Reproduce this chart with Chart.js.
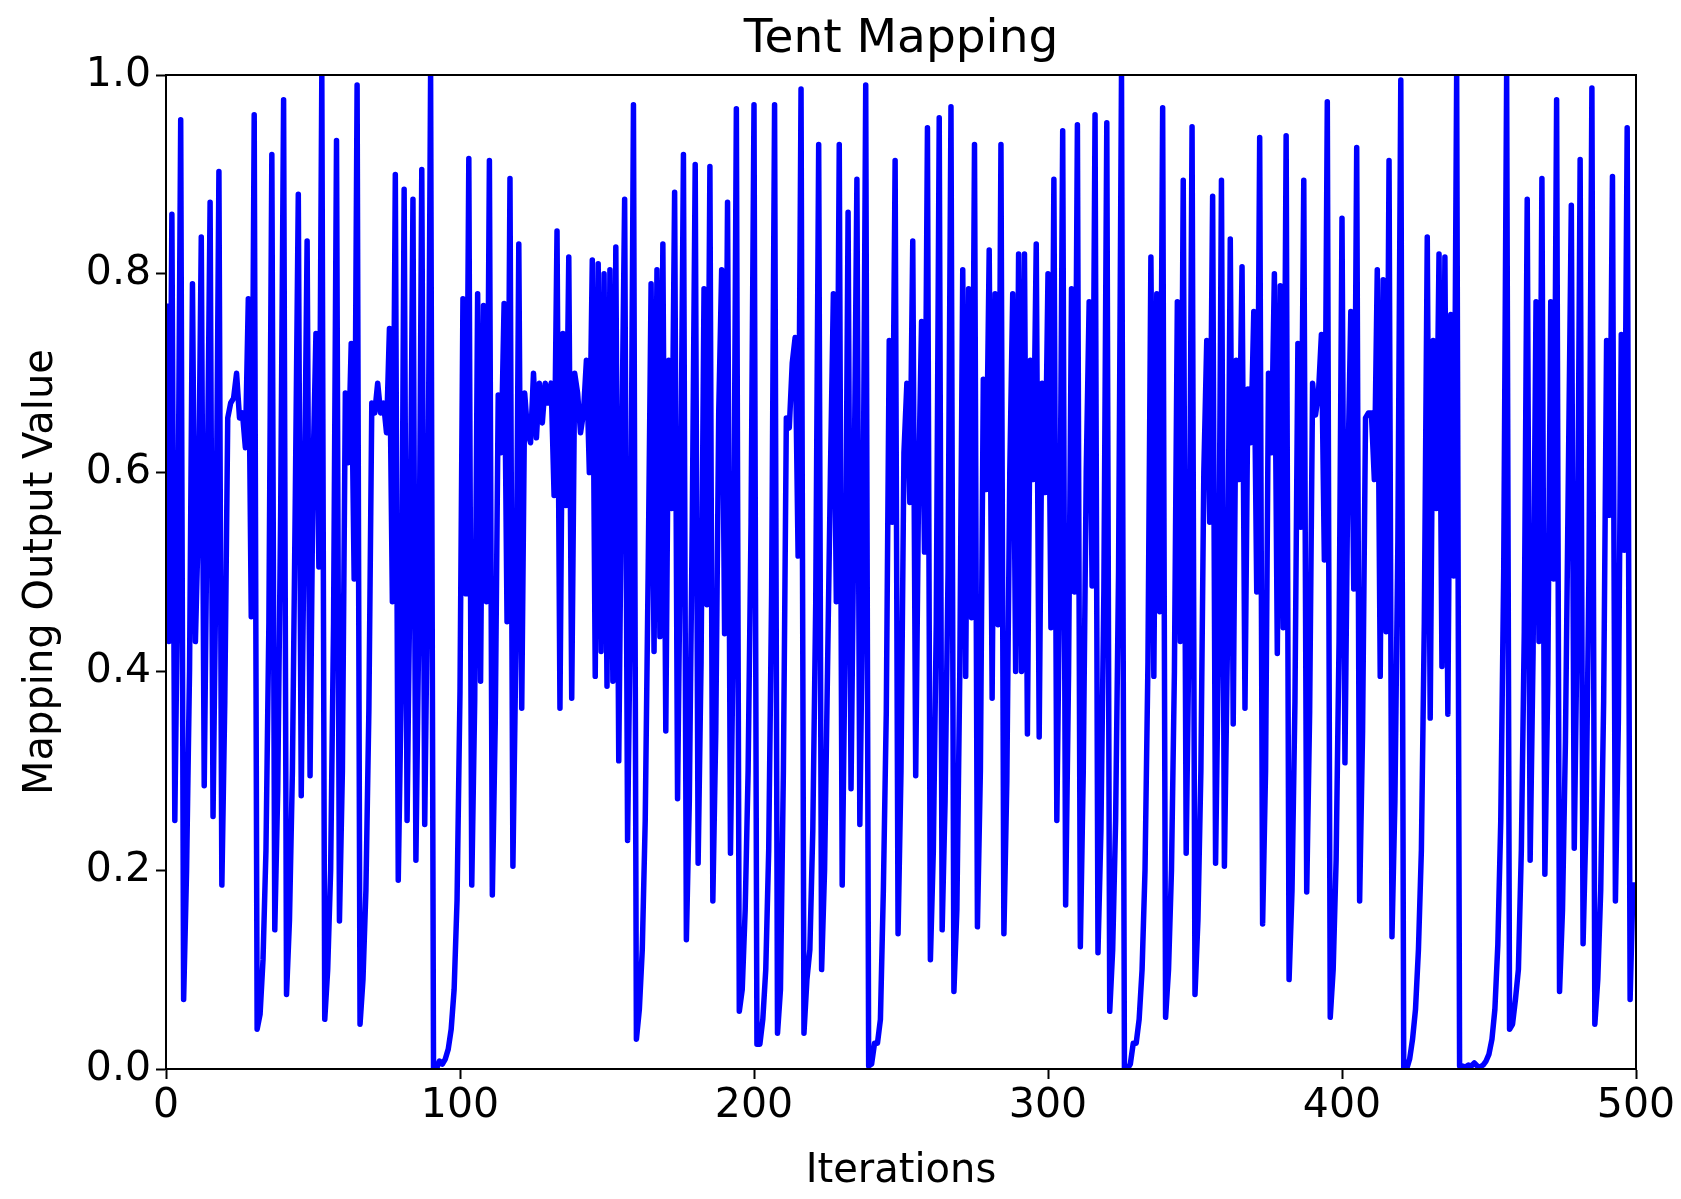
<!DOCTYPE html>
<html>
<head>
<meta charset="utf-8">
<script src="https://cdn.jsdelivr.net/npm/chart.js@4/dist/chart.umd.min.js"></script>
<style>
html,body{margin:0;padding:0;background:#ffffff;overflow:hidden;}
canvas{display:block;}
</style>
</head>
<body>
<canvas id="c" width="1681" height="1199" style="width:1681px;height:1199px;"></canvas>
<script>
// ---- data ----
const titleText = 'Tent Mapping';
const xAxisLabel = 'Iterations';
const yAxisLabel = 'Mapping Output Value';
const xTickValues = [0, 100, 200, 300, 400, 500];
const yTickValues = [0.0, 0.2, 0.4, 0.6, 0.8, 1.0];
const yTickLabels = ['0.0', '0.2', '0.4', '0.6', '0.8', '1.0'];

// mapping output value at each iteration (0..499)
const outputValues = [
  0.77,0.43,0.86,0.25,0.50,0.955,0.07,0.2,0.4,0.79,
  0.43,0.55,0.837,0.285,0.57,0.872,0.254,0.51,0.903,0.185,
  0.37,0.655,0.67,0.675,0.70,0.655,0.66,0.625,0.775,0.455,
  0.96,0.04,0.055,0.11,0.22,0.45,0.92,0.14,0.28,0.56,
  0.975,0.075,0.15,0.3,0.58,0.88,0.275,0.55,0.833,0.295,
  0.6,0.74,0.505,1.0,0.05,0.1,0.2,0.45,0.934,0.149,
  0.3,0.68,0.61,0.73,0.493,0.99,0.045,0.09,0.18,0.36,
  0.67,0.66,0.69,0.66,0.67,0.64,0.745,0.47,0.90,0.19,
  0.38,0.885,0.25,0.5,0.875,0.21,0.45,0.905,0.246,0.5,
  1.0,0.0,0.0,0.008,0.005,0.01,0.02,0.04,0.08,0.17,
  0.38,0.775,0.478,0.916,0.185,0.37,0.78,0.39,0.768,0.47,
  0.914,0.175,0.35,0.678,0.62,0.77,0.45,0.896,0.204,0.42,
  0.83,0.363,0.68,0.64,0.63,0.70,0.635,0.69,0.65,0.69,
  0.67,0.69,0.577,0.843,0.363,0.74,0.567,0.817,0.373,0.70,
  0.68,0.64,0.66,0.713,0.6,0.814,0.395,0.81,0.42,0.80,
  0.385,0.804,0.39,0.827,0.31,0.62,0.875,0.23,0.48,0.97,
  0.03,0.06,0.12,0.25,0.5,0.79,0.42,0.804,0.435,0.83,
  0.34,0.713,0.564,0.882,0.272,0.55,0.92,0.13,0.27,0.55,
  0.91,0.207,0.41,0.785,0.467,0.908,0.169,0.34,0.66,0.804,
  0.438,0.872,0.217,0.45,0.966,0.058,0.08,0.16,0.3,0.55,
  0.97,0.025,0.025,0.05,0.1,0.22,0.48,0.97,0.036,0.08,
  0.3,0.655,0.645,0.71,0.736,0.516,0.986,0.036,0.09,0.12,
  0.24,0.47,0.93,0.10,0.2,0.4,0.6,0.78,0.47,0.93,
  0.185,0.43,0.862,0.282,0.56,0.895,0.246,0.49,0.99,0.003,
  0.005,0.026,0.026,0.05,0.18,0.36,0.733,0.55,0.914,0.136,
  0.3,0.62,0.69,0.57,0.833,0.295,0.59,0.752,0.52,0.947,
  0.11,0.22,0.45,0.957,0.14,0.27,0.5,0.968,0.078,0.16,
  0.4,0.804,0.395,0.785,0.454,0.93,0.143,0.3,0.694,0.583,
  0.824,0.373,0.78,0.447,0.93,0.136,0.29,0.6,0.78,0.40,
  0.82,0.40,0.82,0.337,0.713,0.593,0.83,0.334,0.69,0.58,
  0.80,0.444,0.895,0.25,0.5,0.944,0.165,0.4,0.785,0.48,
  0.95,0.123,0.3,0.6,0.772,0.486,0.96,0.117,0.24,0.48,
  0.952,0.058,0.12,0.25,0.5,1.0,0.0,0.0,0.005,0.026,
  0.026,0.05,0.1,0.2,0.41,0.817,0.395,0.78,0.46,0.967,
  0.052,0.1,0.2,0.4,0.772,0.43,0.894,0.217,0.45,0.948,
  0.075,0.15,0.3,0.6,0.733,0.55,0.878,0.207,0.43,0.894,
  0.204,0.42,0.835,0.347,0.713,0.593,0.807,0.363,0.684,0.63,
  0.762,0.48,0.937,0.146,0.3,0.70,0.62,0.80,0.418,0.788,
  0.444,0.939,0.09,0.18,0.37,0.73,0.545,0.894,0.178,0.36,
  0.69,0.658,0.68,0.739,0.512,0.973,0.052,0.1,0.21,0.43,
  0.856,0.308,0.6,0.762,0.483,0.927,0.169,0.34,0.655,0.66,
  0.66,0.593,0.804,0.395,0.794,0.44,0.914,0.133,0.27,0.53,
  0.995,0.0,0.0,0.01,0.03,0.06,0.12,0.22,0.45,0.837,
  0.353,0.733,0.564,0.82,0.405,0.817,0.357,0.759,0.496,1.0,
  0.003,0.003,0.002,0.004,0.003,0.006,0.003,0.002,0.004,0.008,
  0.015,0.03,0.06,0.125,0.25,0.5,1.0,0.04,0.045,0.07,
  0.1,0.22,0.44,0.875,0.21,0.42,0.772,0.43,0.896,0.196,
  0.39,0.772,0.493,0.975,0.078,0.16,0.33,0.6,0.869,0.222,
  0.45,0.915,0.126,0.25,0.5,0.987,0.045,0.09,0.18,0.37,
  0.733,0.557,0.898,0.169,0.35,0.739,0.522,0.947,0.07,0.188
];

// ---- chart ----
const FONT = "'DejaVu Sans', 'Liberation Sans', sans-serif";
Chart.defaults.font.family = FONT;
Chart.defaults.color = '#000000';

const points = outputValues.map((v, i) => ({ x: i, y: v }));

const framePlugin = {
  id: 'frameAndTitles',
  afterDatasetsDraw(chart) {
    const { ctx, chartArea: a } = chart;
    ctx.save();
    ctx.strokeStyle = '#000000';
    ctx.lineWidth = 2;
    ctx.strokeRect(a.left, a.top, a.right - a.left, a.bottom - a.top);
    ctx.fillStyle = '#000000';
    ctx.textAlign = 'center';
    ctx.textBaseline = 'alphabetic';
    const cx = (a.left + a.right) / 2;
    ctx.font = '47px ' + FONT;
    ctx.fillText(titleText, cx, 52);
    ctx.font = '40px ' + FONT;
    ctx.fillText(xAxisLabel, cx, 1182);
    ctx.translate(52, (a.top + a.bottom) / 2);
    ctx.rotate(-Math.PI / 2);
    ctx.fillText(yAxisLabel, 0, 0);
    ctx.restore();
  }
};

new Chart(document.getElementById('c'), {
  type: 'line',
  data: {
    datasets: [{
      data: points,
      borderColor: '#0000ff',
      borderWidth: 5.5,
      pointRadius: 0,
      tension: 0,
      fill: false,
      clip: 0,
      borderJoinStyle: 'round',
      borderCapStyle: 'butt'
    }]
  },
  options: {
    responsive: false,
    maintainAspectRatio: false,
    animation: false,
    events: [],
    layout: { padding: { top: 75, right: 45, left: 0, bottom: 0 } },
    plugins: {
      legend: { display: false },
      tooltip: { enabled: false },
      title: { display: false }
    },
    scales: {
      x: {
        type: 'linear',
        min: 0,
        max: 500,
        afterBuildTicks: (s) => { s.ticks = xTickValues.map(v => ({ value: v })); },
        afterFit: (s) => { s.height = 130; },
        grid: { drawOnChartArea: false, drawTicks: true, tickLength: 10, tickWidth: 2, tickColor: '#000000' },
        border: { display: true, color: '#000000', width: 2 },
        ticks: { color: '#000000', font: { size: 41 }, padding: 3, maxRotation: 0, autoSkip: false,
                 callback: (v) => String(v) }
      },
      y: {
        type: 'linear',
        min: 0,
        max: 1,
        afterBuildTicks: (s) => { s.ticks = yTickValues.map(v => ({ value: v })); },
        afterFit: (s) => { s.width = 166; },
        grid: { drawOnChartArea: false, drawTicks: true, tickLength: 10, tickWidth: 2, tickColor: '#000000' },
        border: { display: true, color: '#000000', width: 2 },
        ticks: { color: '#000000', font: { size: 41 }, padding: 5, autoSkip: false,
                 callback: (v) => { const k = yTickValues.indexOf(v); return k >= 0 ? yTickLabels[k] : ''; } }
      }
    }
  },
  plugins: [framePlugin]
});
</script>
</body>
</html>
